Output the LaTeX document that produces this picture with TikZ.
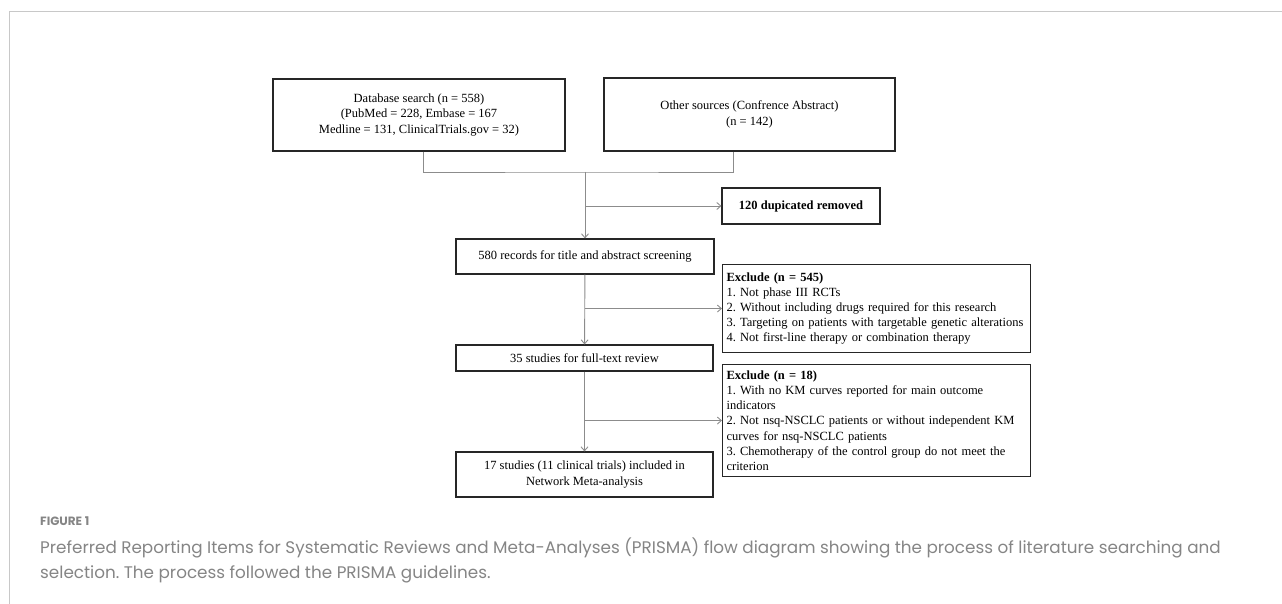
\documentclass[tikz,border=0pt]{standalone}
\usepackage{fontspec}
\setmainfont{Liberation Serif}
\newfontfamily\capfont{Poppins}
\usetikzlibrary{arrows.meta}
\definecolor{boxline}{HTML}{262626}
\definecolor{linkgray}{HTML}{8C8C8C}
\definecolor{framegray}{HTML}{C8C8C8}
\definecolor{capgray}{HTML}{858585}
\frenchspacing
\begin{document}
\begin{tikzpicture}[x=1pt, y=-1pt,
    box/.style={draw=boxline, line width=1.1pt, inner sep=0pt, align=center, font=\fontsize{12.5}{15.5}\selectfont},
    exbox/.style={draw=boxline, line width=1.1pt, anchor=north west, inner xsep=4pt, inner ysep=0pt, text width=300pt, align=left, font=\fontsize{12.5}{15.2}\selectfont},
    link/.style={draw=linkgray, line width=0.9pt},
    arr/.style={link, -{Straight Barb[length=4pt, width=7pt]}}]
    \useasboundingbox (0,0) rectangle (1282,604);
    \draw[framegray, line width=1pt] (9,604) -- (9,12) -- (1282,12);
    \node[box, minimum width=292pt, minimum height=72pt] at(419, 115) (db) {Database search (n = 558)\\(PubMed = 228, Embase = 167\\Medline = 131, ClinicalTrials.gov = 32)};
    \node[box, minimum width=291pt, minimum height=73pt] at(749.5, 114.5) (other) {Other sources (Confrence Abstract)\\(n = 142)};
    \node[box, minimum width=158pt, minimum height=36pt, font=\fontsize{12.5}{15}\selectfont\bfseries] at(801, 206) (dup) {120 dupicated removed};
    \node[box, minimum width=258pt, minimum height=35pt] at(585, 256.5) (screen) {580 records for title and abstract screening};
    \node[exbox, minimum height=88pt] at(722, 264) (ex1) {\textbf{Exclude (n = 545)}\\1. Not phase III RCTs\\2. Without including drugs required for this research\\3. Targeting on patients with targetable genetic alterations\\4. Not first-line therapy or combination therapy};
    \node[box, minimum width=257pt, minimum height=26pt] at(584.5, 358) (full) {35 studies for full-text review};
    \node[exbox, minimum height=112pt] at(722, 364) (ex2) {\textbf{Exclude (n = 18)}\\1. With no KM curves reported for main outcome\\indicators\\2. Not nsq-NSCLC patients or without independent KM\\curves for nsq-NSCLC patients\\3. Chemotherapy of the control group do not meet the\\criterion};
    \node[box, minimum width=257pt, minimum height=45pt] at(584.5, 474.5) (incl) {17 studies (11 clinical trials) included in\\Network Meta-analysis};
    \coordinate (merge) at (585, 172);
    \draw[link] ([xshift=4pt]db.south) |- (merge) -| ([xshift=-16.5pt]other.south);
    \draw[arr] (merge) -- (screen);
    \draw[arr] (merge |- dup.west) -- (dup);
    \draw[arr] (screen) -- (full);
    \draw[arr] (screen.south |- ex1.west) -- (ex1);
    \draw[arr] (full) -- (incl);
    \draw[arr] (full.south |- ex2.west) -- (ex2);
    \node[anchor=west, inner sep=0pt, text=capgray, font=\capfont\fontsize{12}{14}\selectfont\bfseries] at(40, 521) (fig) {FIGURE 1};
    \node[anchor=north west, inner sep=0pt, align=left, text=capgray, font=\capfont\fontsize{16.8}{25}\selectfont] at(40, 538) (cap) {Preferred Reporting Items for Systematic Reviews and Meta-Analyses (PRISMA) flow diagram showing the process of literature searching and\\selection. The process followed the PRISMA guidelines.};
\end{tikzpicture}
\end{document}
